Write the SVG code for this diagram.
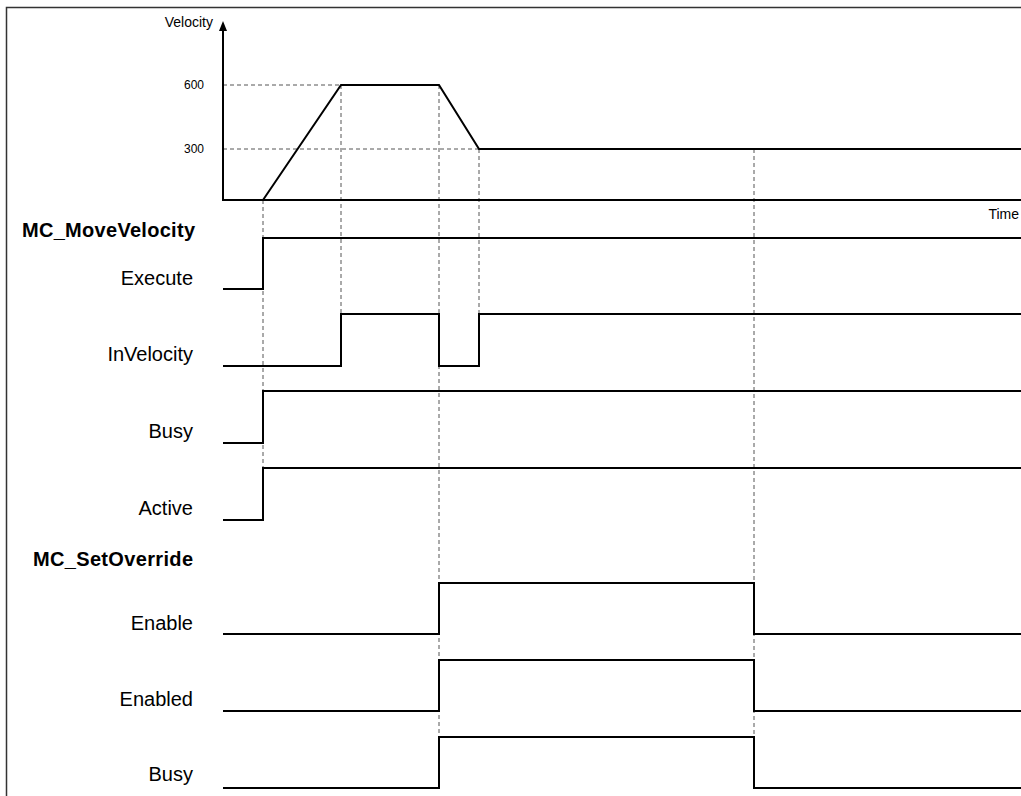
<svg xmlns="http://www.w3.org/2000/svg" width="1021" height="796" viewBox="0 0 1021 796">
  <style>
    .lbl { font-family: "Liberation Sans", Arial, sans-serif; font-size: 20px; fill: #000; text-anchor: end; }
    .hdr { font-family: "Liberation Sans", Arial, sans-serif; font-size: 20px; font-weight: bold; fill: #000; }
    .small { font-family: "Liberation Sans", Arial, sans-serif; font-size: 14px; fill: #000; }
    .tick { font-family: "Liberation Sans", Arial, sans-serif; font-size: 12px; fill: #000; text-anchor: end; }
    .sig { fill: none; stroke: #000; stroke-width: 2; }
    .guide { fill: none; stroke: #555; stroke-width: 1; stroke-dasharray: 4 3; }
  </style>

  <rect x="0" y="0" width="1021" height="796" fill="#fff"/>

  <!-- outer frame (open at right and bottom) -->
  <path d="M6.5,796 V7.5 H1021" fill="none" stroke="#333" stroke-width="1.5"/>

  <!-- guide lines -->
  <g id="guides">
    <line class="guide" x1="223" y1="85" x2="341" y2="85"/>
    <line class="guide" x1="223" y1="149" x2="479" y2="149"/>
    <line class="guide" x1="263" y1="200" x2="263" y2="468"/>
    <line class="guide" x1="341" y1="85" x2="341" y2="314"/>
    <line class="guide" x1="439" y1="85" x2="439" y2="737"/>
    <line class="guide" x1="479" y1="149" x2="479" y2="314"/>
    <line class="guide" x1="754" y1="149" x2="754" y2="737"/>
  </g>

  <!-- velocity chart -->
  <g id="velocity-chart">
    <line x1="223" y1="201" x2="223" y2="30" stroke="#000" stroke-width="2"/>
    <path d="M223,21 L227,31 L219,31 Z" fill="#000"/>
    <line x1="222" y1="200" x2="1021" y2="200" stroke="#000" stroke-width="2"/>
    <polyline class="sig" points="263,200 341,85 439,85 479,149 1021,149"/>
    <text class="small" x="213" y="27" text-anchor="end">Velocity</text>
    <text class="tick" x="204" y="89">600</text>
    <text class="tick" x="204" y="153">300</text>
    <text class="small" x="1019" y="219" text-anchor="end">Time</text>
  </g>

  <!-- MC_MoveVelocity -->
  <g id="mc-movevelocity">
    <text class="hdr" x="22" y="237" textLength="173" lengthAdjust="spacing">MC_MoveVelocity</text>
  </g>
  <g id="sig-execute">
    <text class="lbl" x="193" y="285">Execute</text>
    <polyline class="sig" points="223,289 263,289 263,238 1021,238"/>
  </g>
  <g id="sig-invelocity">
    <text class="lbl" x="193" y="361">InVelocity</text>
    <polyline class="sig" points="223,366 341,366 341,314 439,314 439,366 479,366 479,314 1021,314"/>
  </g>
  <g id="sig-busy1">
    <text class="lbl" x="193" y="438">Busy</text>
    <polyline class="sig" points="223,443 263,443 263,391 1021,391"/>
  </g>
  <g id="sig-active">
    <text class="lbl" x="193" y="515">Active</text>
    <polyline class="sig" points="223,520 263,520 263,468 1021,468"/>
  </g>

  <!-- MC_SetOverride -->
  <g id="mc-setoverride">
    <text class="hdr" x="33" y="566" textLength="160" lengthAdjust="spacing">MC_SetOverride</text>
  </g>
  <g id="sig-enable">
    <text class="lbl" x="193" y="630">Enable</text>
    <polyline class="sig" points="223,634 439,634 439,583 754,583 754,634 1021,634"/>
  </g>
  <g id="sig-enabled">
    <text class="lbl" x="193" y="706">Enabled</text>
    <polyline class="sig" points="223,711 439,711 439,660 754,660 754,711 1021,711"/>
  </g>
  <g id="sig-busy2">
    <text class="lbl" x="193" y="781">Busy</text>
    <polyline class="sig" points="223,788 439,788 439,737 754,737 754,788 1021,788"/>
  </g>
</svg>
